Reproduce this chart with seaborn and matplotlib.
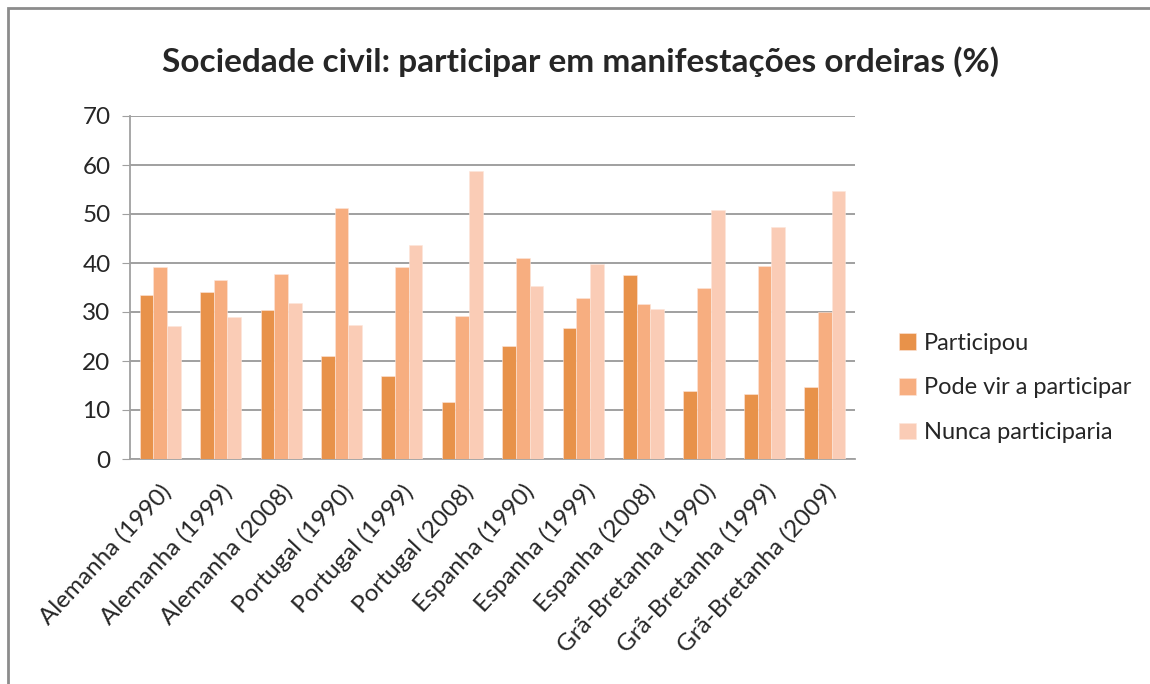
import matplotlib
matplotlib.use("Agg")
import matplotlib.pyplot as plt
import pandas as pd
import seaborn as sns
from matplotlib.patches import Rectangle

categorias = ["Alemanha (1990)", "Alemanha (1999)", "Alemanha (2008)",
              "Portugal (1990)", "Portugal (1999)", "Portugal (2008)",
              "Espanha (1990)", "Espanha (1999)", "Espanha (2008)",
              "Grã-Bretanha (1990)", "Grã-Bretanha (1999)", "Grã-Bretanha (2009)"]
participou = [33.5, 34.1, 30.5, 21.1, 17.0, 11.7, 23.1, 26.8, 37.5, 13.9, 13.3, 14.7]
pode_vir = [39.1, 36.6, 37.8, 51.2, 39.1, 29.2, 41.1, 32.9, 31.6, 34.9, 39.4, 30.1]
nunca = [27.1, 29.0, 31.9, 27.3, 43.6, 58.8, 35.4, 39.7, 30.7, 50.9, 47.3, 54.6]
series = ["Participou", "Pode vir a participar", "Nunca participaria"]
cores = ["#E8924A", "#F7AE80", "#FACCB6"]

df = pd.DataFrame({"cat": categorias * 3,
                   "valor": participou + pode_vir + nunca,
                   "serie": [s for s in series for _ in categorias]})

sns.set_style("white")
plt.rcParams["font.family"] = ["Lato", "DejaVu Sans"]

fig = plt.figure(figsize=(11.5, 6.84), dpi=100)
ax = fig.add_axes([130 / 1150, 1 - 459 / 684, 725 / 1150, 343 / 684])

sns.barplot(data=df, x="cat", y="valor", hue="serie", palette=cores,
            width=0.68, gap=0, saturation=1, edgecolor="#fde6da", linewidth=0.4,
            ax=ax, zorder=3)

ax.set_ylim(0, 70)
ax.set_yticks(range(0, 80, 10))
ax.set_xlim(-0.5, len(categorias) - 0.5)
ax.yaxis.grid(True, color="#999999", linewidth=1.3, zorder=0)
ax.set_axisbelow(True)
for s in ["top", "right"]:
    ax.spines[s].set_visible(False)
for s in ["left", "bottom"]:
    ax.spines[s].set_color("#a0a0a0")
    ax.spines[s].set_linewidth(1.3)
ax.tick_params(axis="y", left=True, length=6, color="#a0a0a0", labelsize=17.5, pad=8)
ax.tick_params(axis="x", bottom=False, labelsize=17.5, pad=12)
ax.set_xlabel("")
ax.set_ylabel("")
plt.setp(ax.get_xticklabels(), rotation=47, ha="right", rotation_mode="anchor")

ax.legend(loc="center left", bbox_to_anchor=(878 / 1150, 1 - 388 / 684),
          bbox_transform=fig.transFigure, frameon=False, fontsize=17,
          handlelength=0.7, handleheight=0.7, handletextpad=0.35, labelspacing=1.0)

fig.text(580 / 1150, 1 - 62 / 684, "Sociedade civil: participar em manifestações ordeiras (%)",
         ha="center", va="center", fontsize=24, fontweight="bold")

fig.patches.append(Rectangle((8 / 1150, -0.1), 1.2, 1 - 8 / 684 + 0.1, transform=fig.transFigure,
                             fill=False, edgecolor="#8c8c8c", linewidth=2))

fig.savefig("out.png", dpi=100)
